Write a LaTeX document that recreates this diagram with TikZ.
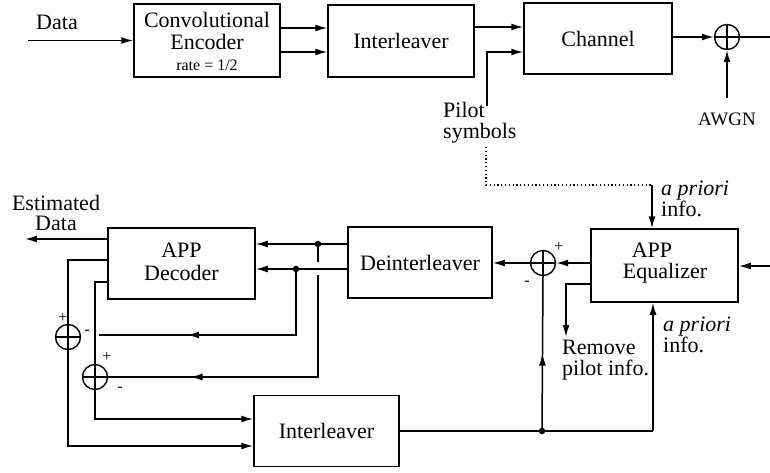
\documentclass[tikz,border=0pt]{standalone}
\usepackage{fontspec}
\setmainfont{Liberation Serif}
\usetikzlibrary{arrows.meta,decorations.markings}
\tikzset{
  ln/.style={line width=1.5pt},
  box/.style={draw, line width=1.5pt, inner sep=0pt, font=\fontsize{22}{22}\selectfont},
  lbl/.style={inner sep=0pt, font=\fontsize{22}{22}\selectfont},
  lblml/.style={inner sep=0pt, font=\fontsize{22}{#1}\selectfont},
  sml/.style={inner sep=0pt, font=\fontsize{16}{16}\selectfont},
  arr/.style={ln, -{Latex[length=12pt,width=7pt]}},
  midarr/.style={ln, postaction={decorate, decoration={markings,
      mark=at position #1 with {\arrow{Latex[length=12pt,width=7pt]}}}}},
  sumc/.style={draw, circle, line width=1.4pt, minimum size=25pt, inner sep=0pt,
    path picture={\draw[line width=2.6pt]
      (path picture bounding box.west) -- (path picture bounding box.east)
      (path picture bounding box.north) -- (path picture bounding box.south);}},
  jdot/.style={circle, fill, inner sep=0pt, minimum size=6.5pt},
}
\begin{document}
\begin{tikzpicture}[x=1pt, y=-1pt]
\path[use as bounding box] (0,0) rectangle (770,472);

% ---------- top row ----------
\node[lbl, anchor=base] (datal) at (57,29) {Data};
\coordinate (dataS) at (28,40.5);
\node[box, minimum width=146pt, minimum height=73pt] (enc) at (207,40.5) {};
\node[lbl, anchor=base] (encA) at (207,27) {Convolutional};
\node[lbl, anchor=base] (encB) at (207,49) {Encoder};
\node[sml, anchor=base] (encC) at (207,70) {rate = 1/2};
\node[box, minimum width=146pt, minimum height=72pt] (il1) at (401,41) {Interleaver};
\node[box, minimum width=148pt, minimum height=71pt] (ch) at (598,38.5) {Channel};
\node[sumc] (sumA) at (727,37) {};
\coordinate (outR) at (770,37);
\coordinate (awgnS) at (727,98);
\node[inner sep=0pt, font=\fontsize{19}{19}\selectfont, anchor=base] (awgn) at (727,125) {AWGN};
\node[lblml=21, align=left, anchor=north west] (pil) at (443,102) {Pilot\\symbols};
\coordinate (pilT) at (487,106);

\draw[arr] (dataS) -- (enc.west);
\draw[arr] (enc.east |- 0,28) -- (il1.west |- 0,28);
\draw[arr] (enc.east |- 0,52) -- (il1.west |- 0,52);
\draw[arr] (il1.east |- 0,27) -- (ch.west |- 0,27);
\draw[arr] (pilT) |- (ch.west |- 0,52);
\draw[arr] (ch.east |- sumA) -- (sumA.west);
\draw[ln] (sumA.east) -- (outR);
\draw[arr] (awgnS) -- (sumA.south);

% ---------- dotted pilot path ----------
\coordinate (pdS) at (486,147);
\coordinate (apA) at (652,185);
\draw[line width=1.3pt, dash pattern=on 1.2pt off 2.6pt] (pdS) |- (apA);
\node[lblml=16, align=left, anchor=north west] (apAt) at (661,181) {\textit{a priori}\\info.};

% ---------- bottom blocks ----------
\node[box, minimum width=147pt, minimum height=71pt] (dec) at (181.5,263.5) {};
\node[lbl, anchor=base] (decA) at (181.5,257) {APP};
\node[lbl, anchor=base] (decB) at (181.5,280) {Decoder};
\node[box, minimum width=144pt, minimum height=71pt] (deint) at (420,262.5) {Deinterleaver};
\node[sumc] (sumB) at (543,263) {};
\node[box, minimum width=147pt, minimum height=73pt] (eq) at (664.5,265.5) {};
\node[lbl, anchor=base] (eqA) at (652,257) {APP};
\node[lbl, anchor=base] (eqB) at (665,278) {Equalizer};
\node[box, minimum width=145pt, minimum height=71pt] (il2) at (326.5,431) {Interleaver};
\node[sumc] (sum1) at (68,337) {};
\node[sumc] (sum2) at (95,377) {};

\node[lblml=20, align=center, anchor=north] (est) at (56,195) {Estimated\\Data};
\node[lblml=21, align=left, anchor=north west] (rm) at (562,340) {Remove\\pilot info.};
\node[lblml=16, align=left, anchor=north west] (apBt) at (663,317) {\textit{a priori}\\info.};

% signs
\node[sml] (pB) at (559,247) {+};
\node[sml] (mB) at (527,283) {-};
\node[sml] (p1) at (63,318) {+};
\node[sml] (m1) at (87,332) {-};
\node[sml] (p2) at (107,357) {+};
\node[sml] (m2) at (120,389) {-};

% coordinates
\coordinate (estE) at (25,239);
\coordinate (d1) at (318,244);
\coordinate (d2) at (296,269);
\coordinate (g1) at (318,262);
\coordinate (g2) at (318,275);
\coordinate (c1E) at (99,335);
\coordinate (jn) at (542,431);
\coordinate (apB) at (653,431);
\coordinate (rmE) at (566,337);
\coordinate (inR) at (770,266);

% connectors
\draw[arr] (apA) -- (apA |- eq.north);
\draw[arr] (inR) -- (eq.east |- inR);
\draw[arr] (eq.west |- sumB) -- (sumB.east);
\draw[arr] (sumB.west) -- (deint.east |- sumB);
\draw[arr] (deint.west |- d1) -- (dec.east |- d1);
\draw[arr] (deint.west |- d2) -- (dec.east |- d2);
\draw[arr] (dec.west |- estE) -- (estE);
\draw[ln] (dec.west |- 0,260) -| (sum1.north);
\draw[arr] (sum1.south) |- (il2.west |- 0,446);
\draw[ln] (dec.west |- 0,282) -| (sum2.north);
\draw[arr] (sum2.south) |- (il2.west |- 0,419);
\draw[midarr=0.665] (d2) |- (c1E);
\draw[ln] (d1) -- (g1);
\draw[midarr=0.736] (g2) |- (sum2.east);
\draw[ln] (il2.east) -- (apB);
\draw[arr] (apB) -- (apB |- eq.south);
\draw[midarr=0.5] (jn) -- (sumB.south);
\draw[arr] (eq.west |- 0,284) -| (rmE);

\node[jdot] (dot1) at (d1) {};
\node[jdot] (dot2) at (d2) {};
\node[jdot] (dot3) at (jn) {};
\end{tikzpicture}
\end{document}
